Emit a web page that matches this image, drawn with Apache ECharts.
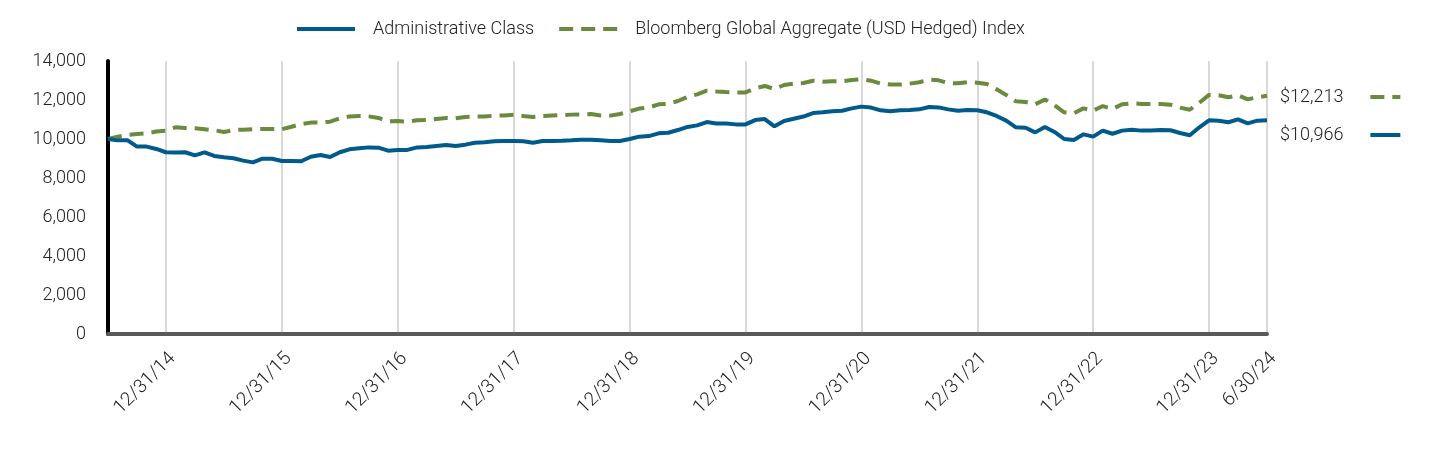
<!DOCTYPE html>
<html>
<head>
<meta charset="utf-8">
<script src="https://cdn.jsdelivr.net/npm/echarts@6/dist/echarts.min.js"></script>
<style>
html,body{margin:0;padding:0;background:#fff;}
#chart{width:1440px;height:456px;}
</style>
</head>
<body>
<div id="chart"></div>
<script>
// ---- Data ----
const seriesNames = ['Administrative Class', 'Bloomberg Global Aggregate (USD Hedged) Index'];
const startYear = 2014, startMonth = 6; // first point: 6/30/14, monthly to 6/30/24
const monthCount = 121;

const adminValues = [
  10000, 9930, 9940, 9610, 9610, 9490, 9320, 9310, 9320, 9160,
  9310, 9130, 9060, 9010, 8890, 8800, 8990, 8990, 8870, 8870,
  8860, 9090, 9180, 9080, 9320, 9470, 9520, 9570, 9555, 9400,
  9440, 9440, 9570, 9590, 9640, 9690, 9640, 9710, 9810, 9830,
  9880, 9900, 9900, 9880, 9810, 9900, 9900, 9910, 9930, 9960,
  9960, 9930, 9900, 9900, 10000, 10120, 10150, 10290, 10320, 10460,
  10620, 10700, 10870, 10800, 10790, 10750, 10750, 10970, 11020, 10650,
  10920, 11040, 11150, 11330, 11370, 11420, 11450, 11570, 11660, 11610,
  11470, 11420, 11470, 11490, 11520, 11640, 11620, 11520, 11450, 11490,
  11470, 11370, 11180, 10940, 10600, 10580, 10340, 10620, 10360, 10000,
  9950, 10240, 10120, 10430, 10270, 10430, 10480, 10430, 10430, 10460,
  10450, 10310, 10190, 10600, 10960, 10940, 10860, 11010, 10800, 10940,
  10966
];

const indexValues = [
  10000, 10120, 10200, 10260, 10290, 10380, 10430, 10600, 10560, 10550,
  10500, 10450, 10360, 10460, 10480, 10500, 10510, 10510, 10500, 10630,
  10770, 10840, 10850, 10890, 11060, 11160, 11180, 11160, 11080, 10910,
  10920, 10890, 10960, 10970, 11030, 11080, 11060, 11130, 11160, 11150,
  11200, 11210, 11250, 11180, 11130, 11180, 11210, 11230, 11250, 11260,
  11280, 11210, 11200, 11280, 11420, 11560, 11610, 11780, 11800, 11950,
  12160, 12290, 12480, 12440, 12410, 12390, 12390, 12600, 12720, 12560,
  12770, 12840, 12870, 12990, 12940, 12960, 12960, 13030, 13060, 12990,
  12840, 12790, 12790, 12840, 12910, 13040, 13010, 12870, 12860, 12920,
  12890, 12820, 12550, 12260, 11930, 11900, 11780, 12030, 11730, 11370,
  11320, 11570, 11450, 11690, 11540, 11780, 11830, 11800, 11800, 11800,
  11760, 11610, 11500, 11860, 12260, 12240, 12140, 12240, 12030, 12140,
  12213
];

const tickLabels = ['12/31/14','12/31/15','12/31/16','12/31/17','12/31/18','12/31/19','12/31/20','12/31/21','12/31/22','12/31/23','6/30/24'];
const yTicks = { min: 0, max: 14000, interval: 2000 };

// month-end category labels
const categories = [];
for (let i = 0; i < monthCount; i++) {
  const m0 = startMonth - 1 + i;
  const y = startYear + Math.floor(m0 / 12);
  const m = (m0 % 12) + 1;
  const d = new Date(y, m, 0).getDate();
  categories.push(m + '/' + d + '/' + String(y).slice(2));
}

const BLUE = '#005a8b';
const GREEN = '#6a8a3e';
const TEXT = '#222';
const FONT = 'Roboto';
const FS = 18;
const FW = 300;

function money(v){ return '$' + v.toLocaleString('en-US'); }
const lastVals = {};
lastVals[seriesNames[0]] = adminValues[adminValues.length - 1];
lastVals[seriesNames[1]] = indexValues[indexValues.length - 1];

const showTick = (idx, val) => tickLabels.indexOf(val) >= 0;

const legendText = { fontFamily: FONT, fontSize: FS, fontWeight: FW, color: TEXT };

const chart = echarts.init(document.getElementById('chart'), null, {renderer: 'canvas'});
chart.setOption({
  animation: false,
  textStyle: { fontFamily: FONT },
  legend: [
    {
      left: 290, top: 15,
      itemWidth: 58, itemHeight: 14, itemGap: 23,
      data: seriesNames,
      itemStyle: { opacity: 0 },
      lineStyle: { width: 4 },
      textStyle: Object.assign({ padding: [0, 0, 0, 13] }, legendText)
    },
    {
      left: 1275, top: 83, orient: 'vertical', align: 'right',
      itemWidth: 30, itemHeight: 14, itemGap: 20,
      selectedMode: false,
      data: [seriesNames[1], seriesNames[0]],
      itemStyle: { opacity: 0 },
      lineStyle: { width: 4 },
      formatter: name => money(lastVals[name]),
      textStyle: Object.assign({ padding: [0, 22, 0, 0] }, legendText)
    }
  ],
  grid: { left: 108, right: 173, top: 61, bottom: 122, containLabel: false },
  xAxis: {
    type: 'category',
    data: categories,
    boundaryGap: false,
    axisLine: { show: true, lineStyle: { color: '#58595b', width: 4 } },
    axisTick: { show: false },
    axisLabel: {
      interval: showTick, rotate: 45, margin: 15, verticalAlign: 'top',
      fontFamily: FONT, fontSize: 19, fontWeight: FW, color: TEXT
    },
    splitLine: { show: true, interval: showTick, lineStyle: { color: '#d9d9d9', width: 2 } }
  },
  yAxis: {
    type: 'value',
    min: yTicks.min, max: yTicks.max, interval: yTicks.interval,
    axisLine: { show: true, lineStyle: { color: '#000', width: 4 } },
    axisTick: { show: false },
    splitLine: { show: false },
    axisLabel: {
      margin: 22, fontFamily: FONT, fontSize: FS, fontWeight: FW, color: TEXT,
      formatter: v => v.toLocaleString('en-US')
    }
  },
  series: [
    {
      name: seriesNames[0], type: 'line', data: adminValues,
      symbol: 'none', z: 3,
      lineStyle: { color: BLUE, width: 4 },
      itemStyle: { color: BLUE }
    },
    {
      name: seriesNames[1], type: 'line', data: indexValues,
      symbol: 'none', z: 2,
      lineStyle: { color: GREEN, width: 4, type: [14, 8] },
      itemStyle: { color: GREEN }
    }
  ]
});
</script>
</body>
</html>
